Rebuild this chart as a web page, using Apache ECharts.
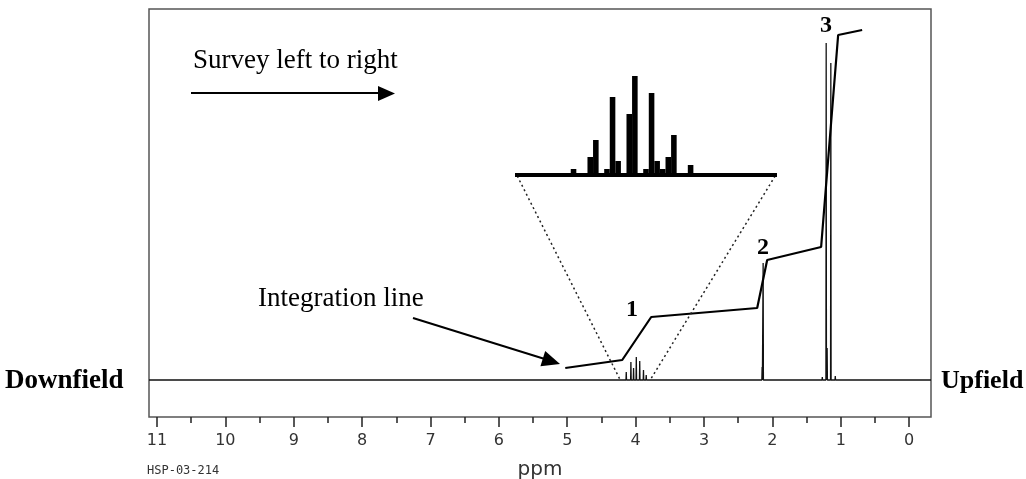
<!DOCTYPE html>
<html>
<head>
<meta charset="utf-8">
<script src="https://cdn.jsdelivr.net/npm/echarts@6/dist/echarts.min.js"></script>
<style>html,body{margin:0;padding:0;background:#fff;}#chart{width:1026px;height:479px;}</style>
</head>
<body>
<div id="chart"></div>
<script>
// ---- data ----
// axis (ppm scale)
const ppmAxisMin = 0, ppmAxisMax = 11, ppmStep = 1;
// spectrum lines (ppm, intensity)
const peakPpm    = [4.137, 4.069, 4.030, 3.990, 3.940, 3.885, 3.845, 2.150, 2.135, 1.270, 1.213, 1.199, 1.145, 1.080];
const peakHeight = [8,     18,    12,    23,    19,    10,    5,     13,    117,   3,     337,   32,    317,   4];
// integration trace
const integPpm    = [5.029, 4.196, 3.772, 2.222, 2.076, 1.287, 1.038, 0.687];
const integHeight = [12,    20,    63,    72,    120,   133,   345,   350];
// expanded quartet (inset)
const insetValues = [0,0,0,0,0,0,0,0,0,0, 6,0,0,18,35,0,6,78,14,0,61,99,0,6,82,14,6,18,40,0,0,10,0,0,0,0,0,0,0,0,0,0,0,0,0,0,0];
// guide lines from inset to quartet
const guideLeft  = [[5.731, 204], [4.225, 0]];
const guideRight = [[1.959, 204], [3.787, 0]];
// labels
const peakLabels = ['1','2','3'];

// ---- build ----
const xMin = -0.32, xMax = 11.117;
const spectrum = [[xMax, 0]];
peakPpm.forEach((p, i) => {
  spectrum.push([p + 0.004, 0], [p, peakHeight[i]], [p - 0.004, 0]);
});
spectrum.push([xMin, 0]);
const integ = integPpm.map((p, i) => [p, integHeight[i]]);
const insetCats = insetValues.map((v, i) => 'c' + i);

const serif = '"Liberation Serif","Times New Roman",serif';
const chart = echarts.init(document.getElementById('chart'), null, {renderer: 'canvas'});

function arrowHead(x1, y1, x2, y2, len, half) {
  const dx = x2 - x1, dy = y2 - y1, d = Math.hypot(dx, dy);
  const ux = dx / d, uy = dy / d;
  const bx = x2 - ux * len, by = y2 - uy * len;
  return [[x2, y2], [bx - uy * half, by + ux * half], [bx + uy * half, by - ux * half]];
}

// plot box spans xMin..xMax over 782px starting at 149; the tick axis spans 0..11
const boxLeft = 149, boxWidth = 782;
const pxPerPpm = boxWidth / (xMax - xMin);
const axisLeft = boxLeft + (xMax - ppmAxisMax) * pxPerPpm;
const axisWidth = (ppmAxisMax - ppmAxisMin) * pxPerPpm;

chart.setOption({
  animation: false,
  backgroundColor: '#fff',
  grid: [
    {left: boxLeft, top: 9, width: boxWidth, height: 408, show: true, borderColor: '#555', borderWidth: 1.5, backgroundColor: 'transparent'},
    {left: 515, top: 60, width: 262, height: 115},
    {left: axisLeft, top: 9, width: axisWidth, height: 408}
  ],
  xAxis: [
    {type: 'value', gridIndex: 0, min: xMin, max: xMax, inverse: true, show: false},
    {type: 'category', gridIndex: 1, data: insetCats, show: false, boundaryGap: true},
    {type: 'value', gridIndex: 2, min: ppmAxisMin, max: ppmAxisMax, interval: ppmStep, inverse: true, position: 'bottom',
     axisLine: {show: false, onZero: false},
     axisTick: {show: true, inside: false, length: 10, lineStyle: {color: '#222', width: 1.5}},
     minorTick: {show: true, splitNumber: 2, length: 6, lineStyle: {color: '#222', width: 1.5}},
     axisLabel: {show: true, margin: 16, color: '#333', fontSize: 16, fontFamily: '"DejaVu Sans", sans-serif'},
     splitLine: {show: false}, minorSplitLine: {show: false}}
  ],
  yAxis: [
    {type: 'value', gridIndex: 0, min: -37, max: 371, show: false},
    {type: 'value', gridIndex: 1, min: 0, max: 115, show: false},
    {type: 'value', gridIndex: 2, min: 0, max: 1, show: false}
  ],
  series: [
    {type: 'line', xAxisIndex: 0, yAxisIndex: 0, data: spectrum, symbol: 'none',
     lineStyle: {color: '#111', width: 1.3}},
    {type: 'line', xAxisIndex: 0, yAxisIndex: 0, data: integ, symbol: 'none',
     lineStyle: {color: '#000', width: 2.2}},
    {type: 'line', xAxisIndex: 0, yAxisIndex: 0, data: guideLeft, symbol: 'none',
     lineStyle: {color: '#222', width: 1.5, type: [2, 3]}},
    {type: 'line', xAxisIndex: 0, yAxisIndex: 0, data: guideRight, symbol: 'none',
     lineStyle: {color: '#222', width: 1.5, type: [2, 3]}},
    {type: 'bar', xAxisIndex: 1, yAxisIndex: 1, data: insetValues, barCategoryGap: '0%',
     itemStyle: {color: '#000'},
     markLine: {silent: true, symbol: 'none', label: {show: false},
       lineStyle: {color: '#000', width: 4, type: 'solid'}, data: [{yAxis: 0}]}}
  ],
  graphic: [
    {type: 'text', left: 193, top: 47, style: {text: 'Survey left to right', font: '27px ' + serif, fill: '#000'}},
    {type: 'line', shape: {x1: 191, y1: 93, x2: 380, y2: 93}, style: {stroke: '#000', lineWidth: 2}},
    {type: 'polygon', shape: {points: [[378, 86], [395, 93.5], [378, 101]]}, style: {fill: '#000'}},
    {type: 'text', left: 258, top: 285, style: {text: 'Integration line', font: '27px ' + serif, fill: '#000'}},
    {type: 'line', shape: {x1: 413, y1: 318, x2: 548, y2: 360}, style: {stroke: '#000', lineWidth: 2}},
    {type: 'polygon', shape: {points: arrowHead(413, 318, 560, 364, 18, 8)}, style: {fill: '#000'}},
    {type: 'text', x: 632, y: 310, style: {text: peakLabels[0], font: 'bold 24px ' + serif, fill: '#000', align: 'center', verticalAlign: 'middle'}},
    {type: 'text', x: 763, y: 248, style: {text: peakLabels[1], font: 'bold 24px ' + serif, fill: '#000', align: 'center', verticalAlign: 'middle'}},
    {type: 'text', x: 826, y: 26, style: {text: peakLabels[2], font: 'bold 24px ' + serif, fill: '#000', align: 'center', verticalAlign: 'middle'}},
    {type: 'text', x: 5, y: 381, style: {text: 'Downfield', font: 'bold 27px ' + serif, fill: '#000', align: 'left', verticalAlign: 'middle'}},
    {type: 'text', x: 941, y: 381, style: {text: 'Upfield', font: 'bold 26px ' + serif, fill: '#000', align: 'left', verticalAlign: 'middle'}},
    {type: 'text', x: 540, y: 470, style: {text: 'ppm', font: '20px "DejaVu Sans", sans-serif', fill: '#333', align: 'center', verticalAlign: 'middle'}},
    {type: 'text', x: 147, y: 471, style: {text: 'HSP-03-214', font: '12px "DejaVu Sans Mono", monospace', fill: '#333', align: 'left', verticalAlign: 'middle'}}
  ]
});
</script>
</body>
</html>
